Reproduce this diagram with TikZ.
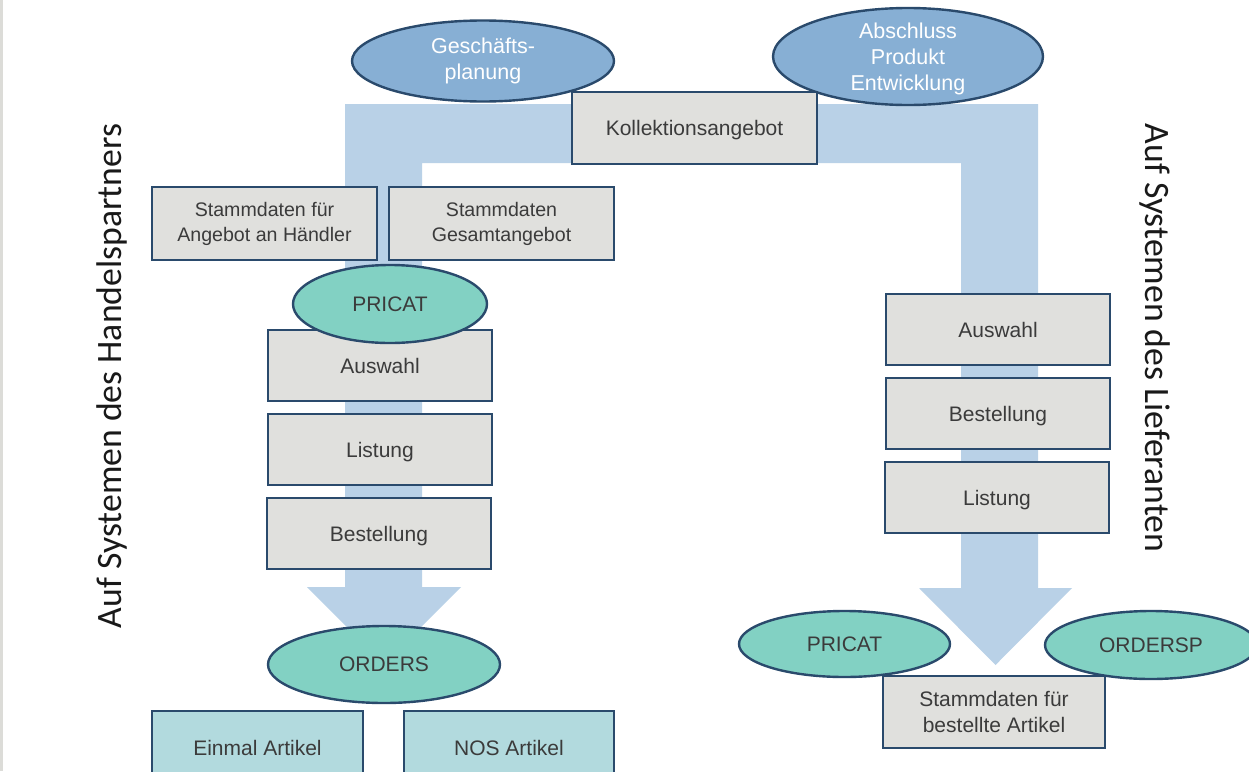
\documentclass[tikz,border=0pt]{standalone}
\usepackage{fontspec}
\setmainfont{Liberation Sans}
\newfontfamily\sidefont{Carlito}
\usetikzlibrary{shapes.geometric}
\definecolor{bandblue}{HTML}{B9D1E7}
\definecolor{ellblue}{HTML}{87AFD4}
\definecolor{edgeblue}{HTML}{2A4A6C}
\definecolor{tealfill}{HTML}{82D1C3}
\definecolor{greyfill}{HTML}{E0E0DD}
\definecolor{ltealfill}{HTML}{B2DADE}
\definecolor{txtgrey}{HTML}{3B3B3B}
\definecolor{edgegrey}{HTML}{DCDCD8}
\tikzset{
  boxnode/.style={rectangle, draw=edgeblue, line width=2.4pt, fill=greyfill, inner sep=0pt,
    text=txtgrey, align=center, font=\fontsize{21}{26.5}\selectfont},
  oneline/.style={text depth=0pt},
  smallbox/.style={boxnode, font=\fontsize{19.6}{25}\selectfont},
  tealbox/.style={boxnode, fill=ltealfill},
  blueell/.style={ellipse, draw=edgeblue, line width=2.4pt, fill=ellblue, inner sep=0pt,
    text=white, align=center, font=\fontsize{21.5}{25.5}\selectfont},
  tealell/.style={ellipse, draw=edgeblue, line width=2.4pt, fill=tealfill, inner sep=0pt,
    text=txtgrey, align=center, font=\fontsize{21}{25.5}\selectfont},
  whitetext/.style={text=white, align=center, inner sep=0pt, font=\fontsize{21.5}{26}\selectfont},
  sidelabel/.style={text=black!90, inner sep=0pt, font=\sidefont\fontsize{35.7}{40}\selectfont}
}
\begin{document}
\begin{tikzpicture}[x=1pt,y=-1pt]
\clip (0,0) rectangle (1249,771);
\fill[white] (0,0) rectangle (1249,771);
\fill[edgegrey] (0,0) rectangle (3,771);
% broad flow band with two arrow heads
\fill[bandblue] (345,104) -- (1038,104) -- (1038,588) -- (1072,588) -- (995.5,665)
  -- (919,588) -- (961,588) -- (961,163) -- (422,163) -- (422,587) -- (461,587)
  -- (384,664) -- (307,587) -- (345,587) -- cycle;
% top ellipses
\node[blueell, minimum width=262pt, minimum height=81pt] (gesch) at (483,61) {Geschäfts-\\planung};
\node[blueell, minimum width=270pt, minimum height=97pt] (abs) at (908,56.5) {};
\node[whitetext] (abstext) at (908,58.5) {Abschluss\\Produkt\\Entwicklung};
\node[boxnode, oneline, minimum width=245pt, minimum height=72pt] (koll) at (694.5,128) {Kollektionsangebot};
% left column
\node[smallbox, minimum width=225pt, minimum height=73pt] (sd1) at (264.5,223.5) {Stammdaten für\\Angebot an Händler};
\node[smallbox, minimum width=225pt, minimum height=73pt] (sd2) at (501.5,223.5) {Stammdaten\\Gesamtangebot};
\node[boxnode, minimum width=224pt, minimum height=71pt] (ausL) at (380,365.5) {Auswahl};
\node[tealell, minimum width=194pt, minimum height=78pt] (pricatL) at (390,304) {PRICAT};
\node[boxnode, oneline, minimum width=224pt, minimum height=71pt] (lisL) at (380,449.5) {Listung};
\node[boxnode, oneline, minimum width=224pt, minimum height=71pt] (besL) at (379,533.5) {Bestellung};
\node[tealell, minimum width=232pt, minimum height=77pt] (orders) at (384,664.5) {ORDERS};
\node[tealbox, minimum width=211pt, minimum height=73pt] (einmal) at (257.5,747.5) {Einmal Artikel};
\node[tealbox, minimum width=210pt, minimum height=73pt] (nos) at (509,747.5) {NOS Artikel};
% right column
\node[boxnode, minimum width=224pt, minimum height=71pt] (ausR) at (998,329.5) {Auswahl};
\node[boxnode, oneline, minimum width=224pt, minimum height=71pt] (besR) at (998,413.5) {Bestellung};
\node[boxnode, oneline, minimum width=224pt, minimum height=71pt] (lisR) at (997,497.5) {Listung};
\node[tealell, minimum width=211pt, minimum height=66pt] (pricatR) at (844.5,644) {PRICAT};
\node[tealell, minimum width=212pt, minimum height=68pt] (ordersp) at (1151,645) {ORDERSP};
\node[boxnode, minimum width=222pt, minimum height=72pt] (sdR) at (994,712) {Stammdaten für\\bestellte Artikel};
% side labels
\node[sidelabel, rotate=90] (leftlabel) at (112,376) {Auf Systemen des Handelspartners};
\node[sidelabel, rotate=-90] (rightlabel) at (1155,338) {Auf Systemen des Lieferanten};
\end{tikzpicture}
\end{document}
